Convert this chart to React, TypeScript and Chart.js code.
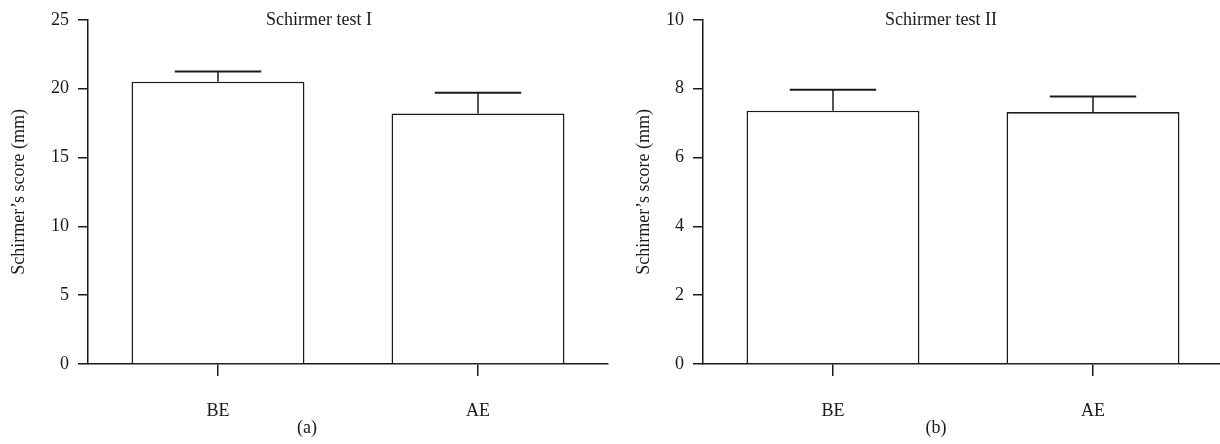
import React, { useEffect, useRef } from "react";
import { Chart, registerables } from "chart.js";

Chart.register(...registerables);

const categories = ["BE", "AE"];

const test1Means = [20.5, 18.2];
const test1Errors = [0.75, 1.5];
const test1Ticks = [0, 5, 10, 15, 20, 25];

const test2Means = [7.36, 7.32];
const test2Errors = [0.61, 0.45];
const test2Ticks = [0, 2, 4, 6, 8, 10];

const FONT = "'Liberation Serif', 'DejaVu Serif', serif";
const INK = "#1a1a1a";
const FS = 18;

const errorBarPlugin = {
  id: "errorBars",
  afterDatasetsDraw(chart: any, _args: any, opts: any) {
    const errs: number[] = opts.errors || [];
    const vals: number[] = chart.data.datasets[0].data;
    const meta = chart.getDatasetMeta(0);
    const y = chart.scales.y;
    const ctx = chart.ctx;
    ctx.save();
    ctx.strokeStyle = INK;
    meta.data.forEach((el: any, i: number) => {
      const top = y.getPixelForValue(vals[i] + errs[i]);
      const half = el.width / 4;
      ctx.lineWidth = 1.5;
      ctx.beginPath();
      ctx.moveTo(el.x, el.y);
      ctx.lineTo(el.x, top);
      ctx.stroke();
      ctx.lineWidth = 2;
      ctx.beginPath();
      ctx.moveTo(el.x - half, top);
      ctx.lineTo(el.x + half, top);
      ctx.stroke();
    });
    ctx.restore();
  },
};

const textPlugin = {
  id: "panelTexts",
  afterDraw(chart: any, _args: any, opts: any) {
    const ctx = chart.ctx;
    const area = chart.chartArea;
    ctx.save();
    ctx.fillStyle = INK;
    ctx.font = `${FS}px ${FONT}`;
    ctx.textAlign = "center";
    ctx.textBaseline = "middle";
    ctx.fillText(opts.title, area.left + opts.titleDx, area.top);
    ctx.fillText(opts.sub, area.left + opts.subDx, 428);
    ctx.restore();
  },
};

function makeConfig(
  means: number[],
  errors: number[],
  ticks: number[],
  title: string,
  sub: string,
  titleDx: number,
  subDx: number,
  yTitlePad: number
): any {
  const step = ticks[1] - ticks[0];
  return {
    type: "bar",
    data: {
      labels: categories,
      datasets: [
        {
          data: means,
          backgroundColor: "#ffffff",
          borderColor: INK,
          borderWidth: 1.6,
          borderSkipped: "bottom",
          categoryPercentage: 1,
          barPercentage: 0.665,
        },
      ],
    },
    options: {
      animation: false,
      responsive: false,
      maintainAspectRatio: false,
      layout: { padding: { top: 19, right: 2, bottom: 0, left: 0 } },
      plugins: {
        legend: { display: false },
        tooltip: { enabled: false },
        title: { display: false },
        errorBars: { errors },
        panelTexts: { title, sub, titleDx, subDx },
      },
      scales: {
        x: {
          type: "category",
          offset: true,
          grid: {
            offset: false,
            drawOnChartArea: false,
            drawTicks: true,
            tickLength: 12,
            color: INK,
            lineWidth: 1.5,
          },
          border: { display: true, color: INK, width: 1.5 },
          ticks: {
            color: INK,
            font: { family: FONT, size: FS },
            padding: 24,
            maxRotation: 0,
          },
          afterFit(scale: any) {
            scale.height = 80;
          },
        },
        y: {
          min: ticks[0],
          max: ticks[ticks.length - 1],
          grid: {
            drawOnChartArea: false,
            drawTicks: true,
            tickLength: 10,
            color: INK,
            lineWidth: 1.5,
          },
          border: { display: true, color: INK, width: 1.5 },
          afterBuildTicks(scale: any) {
            scale.ticks = ticks.map((v) => ({ value: v }));
          },
          ticks: {
            stepSize: step,
            color: INK,
            font: { family: FONT, size: FS },
            padding: 9,
          },
          title: {
            display: true,
            text: "Schirmer’s score (mm)",
            color: INK,
            font: { family: FONT, size: FS },
            padding: { top: yTitlePad, bottom: 0 },
          },
          afterFit(scale: any) {
            scale.width = 88;
          },
        },
      },
    },
    plugins: [errorBarPlugin, textPlugin],
  };
}

function Panel(props: { config: any; left: number; width: number }) {
  const ref = useRef<HTMLCanvasElement | null>(null);
  useEffect(() => {
    if (!ref.current) return;
    const chart = new Chart(ref.current, props.config);
    return () => chart.destroy();
  }, []);
  return (
    <div style={{ position: "absolute", left: props.left, top: 0, width: props.width, height: 444 }}>
      <canvas ref={ref} width={props.width} height={444} style={{ width: props.width, height: 444 }} />
    </div>
  );
}

export default function App() {
  const cfgA = makeConfig(test1Means, test1Errors, test1Ticks, "Schirmer test I", "(a)", 231, 219, 8);
  const cfgB = makeConfig(test2Means, test2Errors, test2Ticks, "Schirmer test II", "(b)", 238, 233, 18);
  return (
    <div
      style={{
        position: "absolute",
        left: 0,
        top: 0,
        width: 1220,
        height: 444,
        overflow: "hidden",
        background: "#ffffff",
      }}
    >
      <Panel config={cfgA} left={0} width={610} />
      <Panel config={cfgB} left={615} width={610} />
    </div>
  );
}
